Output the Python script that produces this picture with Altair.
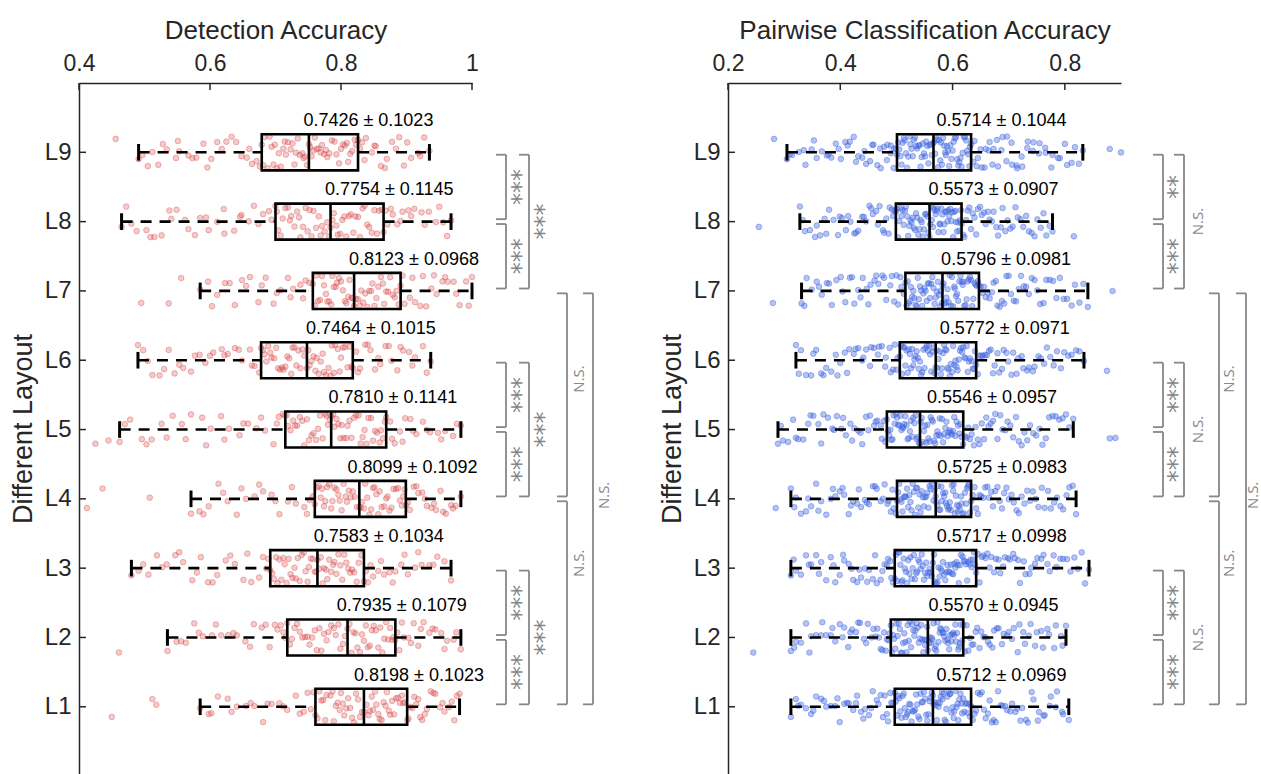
import math

import altair as alt
import pandas as pd

# ---------------------------------------------------------------- data
layouts = ["L1", "L2", "L3", "L4", "L5", "L6", "L7", "L8", "L9"]
rows = [1, 2, 3, 4, 5, 6, 7, 8, 9]

# Detection accuracy: summary per layout
det_mean = [0.8198, 0.7935, 0.7583, 0.8099, 0.7810, 0.7464, 0.8123, 0.7754, 0.7426]
det_std = [0.1023, 0.1079, 0.1034, 0.1092, 0.1141, 0.1015, 0.0968, 0.1145, 0.1023]
det_lo = [0.585, 0.535, 0.480, 0.571, 0.462, 0.490, 0.585, 0.465, 0.491]
det_q1 = [0.761, 0.718, 0.692, 0.760, 0.715, 0.678, 0.757, 0.700, 0.679]
det_med = [0.835, 0.810, 0.764, 0.828, 0.785, 0.748, 0.820, 0.784, 0.751]
det_q3 = [0.901, 0.883, 0.835, 0.899, 0.869, 0.818, 0.891, 0.865, 0.826]
det_hi = [0.981, 0.983, 0.968, 0.983, 0.983, 0.937, 1.000, 0.968, 0.935]

# Pairwise classification accuracy: summary per layout
pair_mean = [0.5712, 0.5570, 0.5717, 0.5725, 0.5546, 0.5772, 0.5796, 0.5573, 0.5714]
pair_std = [0.0969, 0.0945, 0.0998, 0.0983, 0.0957, 0.0971, 0.0981, 0.0907, 0.1044]
pair_lo = [0.312, 0.312, 0.312, 0.312, 0.289, 0.321, 0.331, 0.328, 0.305]
pair_q1 = [0.497, 0.490, 0.497, 0.501, 0.483, 0.506, 0.516, 0.499, 0.501]
pair_med = [0.565, 0.556, 0.565, 0.570, 0.542, 0.570, 0.582, 0.559, 0.566]
pair_q3 = [0.633, 0.619, 0.642, 0.633, 0.619, 0.642, 0.647, 0.616, 0.633]
pair_hi = [0.807, 0.802, 0.843, 0.820, 0.815, 0.834, 0.841, 0.778, 0.832]

# Individual scores (thousandths) per layout
det_scores = {
    "L1": "450 512 518 585 598 612 627 641 655 668 681 694 706 718 731 743 754 761 767 773 778 784 789 795 800 805 811 817 823 829 835 839 844 849 854 859 865 870 875 881 887 893 897 901 906 912 918 924 931 937 944 951 958 965 973 981 "
          "602 633 662 688 712 737 749 758 764 770 776 787 792 798 803 808 814 820 826 832 842 847 852 857 862 868 873 878 884 890 895 903 909 915 921 928 941 955 969 977",
    "L2": "461 535 549 563 576 589 603 617 628 641 654 667 679 691 703 712 718 725 733 741 749 756 763 770 778 785 792 799 806 810 816 822 829 835 841 847 853 860 866 872 878 883 889 896 903 911 918 926 935 944 953 962 972 983 "
          "556 583 609 636 661 685 699 708 715 722 729 737 745 752 760 767 774 781 789 796 803 813 819 825 832 838 844 850 857 863 869 875 880 886 893 907 922 940 958 976",
    "L3": "480 491 506 519 534 547 559 573 586 597 611 624 638 651 663 675 686 692 698 703 709 714 720 726 731 737 743 749 754 760 764 769 774 779 785 790 796 802 808 814 820 827 835 841 849 857 866 874 883 892 902 913 923 935 947 958 968 "
          "498 527 553 580 604 631 657 681 689 695 701 706 712 717 723 729 734 740 746 751 757 762 767 772 777 782 788 793 799 805 811 817 824 831 838 845 861 879 897 918 941",
    "L4": "412 436 508 571 584 598 613 627 641 655 668 681 694 706 719 731 744 752 760 766 771 776 782 787 793 798 804 809 815 821 828 832 837 843 849 854 859 866 871 877 884 890 895 899 905 911 918 924 931 938 945 952 960 968 975 983 "
          "590 620 648 675 700 725 748 757 763 769 774 779 785 790 796 801 807 812 818 824 830 835 840 846 851 857 862 869 874 880 887 893 897 902 915 928 942 956 971",
    "L5": "425 445 462 478 496 511 526 543 557 571 588 601 617 629 645 658 671 684 697 705 714 719 727 733 741 748 755 762 768 776 780 785 790 796 801 808 813 820 827 833 839 846 852 859 864 869 875 882 890 898 906 915 925 936 948 959 971 983 "
          "470 503 534 563 594 622 651 678 702 711 717 723 730 737 744 751 758 765 772 778 783 788 793 799 804 810 816 823 830 836 842 849 855 861 867 878 894 910 931 953 977",
    "L6": "490 498 512 523 537 546 559 571 584 593 605 618 627 638 649 661 668 678 683 689 694 701 707 712 718 724 729 735 741 748 752 758 763 769 774 781 786 791 798 803 810 818 823 829 837 845 852 860 868 877 886 895 904 913 925 937 "
          "505 530 553 577 600 622 644 664 675 681 686 692 698 704 710 715 721 726 732 738 744 750 755 761 766 772 777 784 789 795 800 806 813 816 826 841 857 873 891 909 931",
    "L7": "495 537 556 585 597 611 623 638 649 661 674 685 697 708 719 727 738 746 757 762 768 774 779 785 789 794 800 806 811 816 820 826 831 837 843 848 854 861 866 872 879 885 891 897 905 913 921 930 938 946 955 963 972 981 991 1000 "
          "603 630 655 679 702 723 742 752 760 765 771 777 782 787 792 797 803 808 813 818 823 829 834 840 846 851 857 864 869 875 882 888 894 909 925 942 959 976 995",
    "L8": "465 472 488 503 515 526 541 549 562 577 585 598 611 622 637 646 659 667 681 690 700 704 711 719 724 733 738 746 752 758 766 771 779 784 789 795 802 808 815 822 829 836 843 851 858 865 871 879 886 894 903 912 923 934 945 956 968 "
          "480 509 538 567 594 621 648 674 694 702 708 715 722 729 736 742 749 755 762 769 775 782 787 793 799 805 812 819 826 833 840 847 855 862 868 876 891 907 928 950 962",
    "L9": "456 491 497 512 521 534 548 553 567 579 590 602 611 625 633 648 656 664 671 679 681 688 694 699 705 712 716 723 729 734 741 745 751 755 760 766 771 779 782 790 797 803 809 814 821 826 832 838 847 853 861 870 878 889 896 907 918 927 935 "
          "505 528 551 573 596 618 640 660 676 683 691 697 702 708 714 719 726 731 737 743 748 753 758 763 769 774 777 786 793 800 806 811 817 823 829 836 851 867 884 901 921",
}

pair_scores = {
    "L1": "312 321 330 339 348 357 366 375 383 391 399 407 415 423 430 437 444 451 458 465 472 479 485 491 497 501 505 509 513 517 521 525 529 533 537 541 545 549 553 557 561 565 568 572 575 579 582 586 589 593 596 600 603 607 610 614 617 621 625 629 633 639 645 652 659 666 673 681 689 697 706 715 724 734 744 754 764 775 786 797 807 "
          "325 352 371 395 412 428 441 455 468 476 483 489 494 499 503 507 511 515 519 523 527 531 535 539 543 547 551 555 559 563 566 570 574 577 581 584 588 591 595 598 602 605 609 612 616 619 623 627 631 636 642 649 656 663 670 677 686 694 703 712 721 731 741 752 762 773 784 795",
    "L2": "245 312 321 330 339 348 357 366 375 383 391 399 407 414 421 428 435 442 449 456 463 469 475 481 486 490 494 498 502 506 510 514 518 522 526 530 534 538 542 546 550 553 556 559 563 566 570 573 577 580 584 587 591 594 598 601 605 608 612 615 619 625 631 637 644 651 658 666 674 682 691 700 709 719 729 739 750 761 772 784 796 802 "
          "318 345 368 386 404 418 432 446 459 466 472 478 483 488 492 496 500 504 508 512 516 520 524 528 532 536 540 544 548 551 555 558 561 564 568 571 575 578 582 585 589 592 596 599 603 606 610 613 617 622 628 634 641 648 655 663 671 679 688 697 706 716 726 736 747 758 769 781 793",
    "L3": "312 321 330 339 348 357 366 375 383 391 399 407 415 423 430 437 444 451 458 465 472 479 485 491 497 501 505 509 513 517 521 525 529 533 537 541 545 549 553 557 561 565 569 573 577 581 585 589 593 597 601 605 609 613 618 622 626 630 634 638 642 648 655 662 669 677 685 693 702 711 720 730 740 751 762 773 785 797 810 823 836 843 "
          "317 344 362 388 405 420 434 448 462 475 483 489 494 499 503 507 511 515 519 523 527 531 535 539 543 547 551 555 559 563 567 571 575 579 583 587 591 595 599 603 607 611 615 620 624 628 632 636 640 645 652 659 666 674 682 690 699 708 717 727 737 747 758 769 780 792 804 817 830",
    "L4": "285 312 321 330 339 348 357 366 375 383 391 399 407 415 423 430 437 444 451 458 465 472 479 486 493 501 505 509 513 517 521 525 529 533 537 541 545 549 553 557 561 566 570 573 576 580 583 587 590 594 597 601 604 608 611 615 618 622 626 629 633 639 645 651 658 665 672 680 688 696 705 714 723 733 743 753 764 775 786 797 808 820 "
          "318 343 361 387 404 419 433 447 462 476 484 490 495 499 503 507 511 515 519 523 527 531 535 539 543 547 551 555 559 563 568 571 574 578 581 585 588 592 595 599 602 606 609 613 616 620 624 627 631 636 642 648 655 662 669 676 684 692 700 709 718 728 738 748 759 770 781 792 803 814",
    "L5": "289 298 307 316 325 334 343 352 361 370 378 386 394 402 410 418 425 432 439 446 453 460 466 472 478 483 487 491 495 499 503 507 511 514 518 522 526 530 534 538 542 545 549 553 557 561 565 569 573 577 581 585 589 593 597 601 605 610 614 619 625 631 638 645 652 660 668 676 685 694 703 713 723 733 744 755 766 778 790 802 815 880 890 "
          "294 321 347 366 389 405 421 436 450 463 474 480 485 489 493 497 501 505 509 512 516 520 524 528 532 536 540 543 547 551 555 559 563 567 571 575 579 583 587 591 595 599 603 607 612 616 622 628 634 641 648 656 664 672 680 689 698 708 718 728 738 749 760 772 784 796 808",
    "L6": "321 330 339 348 357 366 375 384 392 400 408 416 424 432 439 446 453 460 467 474 481 488 494 500 506 510 514 518 522 526 530 534 538 542 546 550 554 558 562 566 570 573 577 581 585 589 593 597 601 605 609 613 617 621 625 629 634 638 642 648 654 661 668 675 683 691 699 708 717 726 736 746 757 768 780 793 806 820 834 875 "
          "326 352 370 395 412 427 441 455 469 480 490 497 502 508 512 516 520 524 528 532 536 540 544 548 552 556 560 564 568 572 575 579 583 587 591 595 599 603 607 611 615 619 623 627 631 636 640 645 651 658 665 672 680 688 696 705 714 723 733 743 753 763 774 786 799 812 826",
    "L7": "280 331 340 349 358 367 376 385 393 401 409 417 425 432 440 447 454 461 468 475 482 489 496 503 509 516 520 524 528 532 536 540 544 548 552 556 560 564 568 572 576 579 582 586 589 593 597 601 604 608 612 616 619 623 627 631 635 639 643 647 653 659 666 673 680 688 696 704 713 722 731 741 751 762 773 785 798 812 826 841 885 "
          "336 362 380 404 421 436 450 464 478 492 500 507 513 518 522 526 530 534 538 542 546 550 554 558 562 566 570 574 578 581 584 588 591 595 599 603 606 610 614 618 621 625 629 633 637 641 645 650 656 663 670 677 684 692 700 709 718 727 736 746 756 767 779 791 804 818 833",
    "L8": "255 328 337 346 355 364 372 380 388 396 403 410 418 425 432 439 446 452 458 464 470 476 482 488 494 499 503 507 511 515 519 523 527 531 535 539 543 547 551 555 559 562 565 568 572 575 578 582 585 589 592 596 599 603 606 610 613 616 621 627 633 639 645 652 659 666 673 681 689 698 707 716 726 736 746 757 767 778 816 "
          "333 358 375 399 414 428 442 455 467 478 486 492 497 501 505 509 513 517 521 525 529 533 537 541 545 549 553 557 560 563 566 570 573 577 580 584 587 591 594 598 601 605 608 612 615 619 624 630 636 642 649 656 663 670 678 686 694 703 712 721 731 741 751 762 773",
    "L9": "282 305 314 326 338 349 358 367 376 384 392 401 409 417 424 432 439 446 453 459 466 472 478 484 490 496 501 505 509 513 517 521 525 529 533 537 541 545 549 553 557 561 566 569 572 576 579 583 587 590 594 598 602 606 610 614 618 622 626 630 633 639 645 652 659 666 673 681 689 697 706 715 724 734 744 755 766 778 791 804 818 832 880 900 "
          "310 335 353 379 397 413 428 443 457 471 483 490 495 499 503 507 511 515 519 523 527 531 535 539 543 547 551 555 559 563 567 571 574 578 581 585 588 592 596 600 604 608 612 616 620 624 628 631 637 643 650 657 664 671 679 687 696 705 714 723 733 743 754 765 776 788 800 812 825",
}

# Pairwise significance brackets (upper layout, lower layout, nesting level)
sig_upper = [9, 8, 9, 6, 5, 6, 3, 2, 3, 7, 4, 7]
sig_lower = [8, 7, 7, 5, 4, 4, 2, 1, 1, 4, 1, 1]
sig_level = [0, 0, 1, 0, 0, 1, 0, 0, 1, 2, 2, 3]
sig_text_row = [8.5, 7.5, 8.0, 5.5, 4.5, 5.0, 2.5, 1.5, 2.0, 5.73, 3.07, 4.05]
det_sig = ["***", "***", "***", "***", "***", "***", "***", "***", "***", "N.S.", "N.S.", "N.S."]
pair_sig = ["**", "***", "N.S.", "***", "***", "N.S.", "***", "***", "N.S.", "N.S.", "N.S.", "N.S."]

# ---------------------------------------------------------------- style
FONT = "Liberation Sans"
SIG_FONT = "Open Sans"
AXC = "#262626"
GREY = "#878787"
YDOM = [0.03, 10]
W, H = 393, 691
BOX_HALF = 0.26
CAP_HALF = 0.12


def jitter(i, r):
    """Deterministic vertical spread for the i-th score of layout r."""
    h = math.sin(i * 12.9898 + r * 78.233) * 43758.5453
    return (h - math.floor(h)) - 0.5


def build_points(scores):
    recs = []
    for lay, r in zip(layouts, rows):
        vals = [int(s) / 1000 for s in scores[lay].split()]
        for i, v in enumerate(vals):
            recs.append({"v": v, "yj": r + jitter(i, r) * 0.46})
    return pd.DataFrame(recs)


def make_panel(scores, mean, std, lo, q1, med, q3, hi, sig, xdom, xticks,
               xtitle, color, fill_op, stroke_op, br_px, txt_px, star_px,
               px_per_unit):
    xs = alt.Scale(domain=xdom, nice=False, zero=False)
    ys = alt.Scale(domain=YDOM, nice=False, zero=False)
    x_axis = alt.Axis(orient="top", values=xticks, format="~g", tickSize=0,
                      grid=False, labelFlush=False, labelFontSize=23,
                      labelPadding=8, labelFont=FONT, labelColor=AXC,
                      titleFont=FONT, titleFontSize=26, titleFontWeight="normal",
                      titleColor=AXC, titleY=-53, titleBaseline="middle",
                      domainColor=AXC, domainWidth=1.5)
    y_axis = alt.Axis(values=rows, labelExpr="'L' + datum.value", tickSize=0,
                      grid=False, labelFlush=False, labelFontSize=24,
                      labelPadding=8, labelFont=FONT, labelColor=AXC,
                      titleFont=FONT, titleFontSize=27, titleFontWeight="normal",
                      titleColor=AXC, titleX=-56, titleY=H / 2, titleAngle=270,
                      titleBaseline="middle", titleAlign="center",
                      domainColor=AXC, domainWidth=1.5)

    def X(f):
        return alt.X(f, type="quantitative", scale=xs, axis=x_axis, title=xtitle)

    def Y(f):
        return alt.Y(f, type="quantitative", scale=ys, axis=y_axis,
                     title="Different Layout")

    pts = build_points(scores)
    box = pd.DataFrame({"r": rows, "lo": lo, "q1": q1, "med": med, "q3": q3,
                        "hi": hi, "mean": mean})
    box["b0"] = box["r"] - BOX_HALF
    box["b1"] = box["r"] + BOX_HALF
    box["ly"] = box["r"] + 0.45
    box["lab"] = [f"{m:.4f} \u00b1 {s:.4f}" for m, s in zip(mean, std)]

    whisk = pd.concat([
        pd.DataFrame({"a": lo, "b": q1, "r": rows}),
        pd.DataFrame({"a": q3, "b": hi, "r": rows}),
    ])
    caps = pd.concat([
        pd.DataFrame({"c": lo, "r": rows}),
        pd.DataFrame({"c": hi, "r": rows}),
    ])
    caps["c0"] = caps["r"] - CAP_HALF
    caps["c1"] = caps["r"] + CAP_HALF

    # significance brackets, placed to the right of the plot area
    x0 = xdom[1]
    hook = 10 / px_per_unit
    br = pd.DataFrame({"up": sig_upper, "dn": sig_lower, "lev": sig_level,
                       "tr": sig_text_row, "lab": sig})
    br["bx"] = [x0 + br_px[l] / px_per_unit for l in br["lev"]]
    br["tx"] = [x0 + txt_px[l] / px_per_unit for l in br["lev"]]
    br["sx"] = [x0 + star_px[l] / px_per_unit for l in br["lev"]]
    br["hx"] = br["bx"] - hook
    br["y0"] = br["dn"] + 0.035
    br["y1"] = br["up"] - 0.035
    hooks = pd.concat([
        pd.DataFrame({"hx": br["hx"], "bx": br["bx"], "hy": br["y0"]}),
        pd.DataFrame({"hx": br["hx"], "bx": br["bx"], "hy": br["y1"]}),
    ])
    stars = br[br["lab"] != "N.S."]
    ns = br[br["lab"] == "N.S."]

    ytick = pd.DataFrame({"r": rows, "t0": xdom[0], "t1": xdom[0] + 7 / px_per_unit})
    xtick = pd.DataFrame({"t": xticks, "s0": YDOM[1], "s1": YDOM[1] - 7 / 69.3})

    layers = [
        alt.Chart(pts).mark_circle(size=32, fill=color, fillOpacity=fill_op,
                                   stroke=color, strokeOpacity=stroke_op,
                                   strokeWidth=0.8).encode(x=X("v"), y=Y("yj")),
        alt.Chart(whisk).mark_rule(color="black", strokeWidth=2.6,
                                   strokeDash=[11, 8]).encode(
            x=X("a"), x2="b", y=Y("r")),
        alt.Chart(caps).mark_rule(color="black", strokeWidth=3).encode(
            x=X("c"), y=Y("c0"), y2="c1"),
        alt.Chart(box).mark_rect(color="black", fillOpacity=0, stroke="black",
                                 strokeWidth=2.6).encode(
            x=X("q1"), x2="q3", y=Y("b0"), y2="b1"),
        alt.Chart(box).mark_rule(color="black", strokeWidth=2.6).encode(
            x=X("med"), y=Y("b0"), y2="b1"),
        alt.Chart(box).mark_text(align="left", baseline="middle", fontSize=18,
                                 font=FONT, color="black").encode(
            x=X("mean"), y=Y("ly"), text="lab:N"),
        alt.Chart(br).mark_rule(color=GREY, strokeWidth=1.8).encode(
            x=X("bx"), y=Y("y0"), y2="y1"),
        alt.Chart(hooks).mark_rule(color=GREY, strokeWidth=1.8).encode(
            x=X("hx"), x2="bx", y=Y("hy")),
        alt.Chart(stars).mark_text(angle=270, align="center", baseline="middle",
                                   fontSize=24, font="DejaVu Sans",
                                   color=GREY).encode(
            x=X("sx"), y=Y("tr"), text="lab:N"),
        alt.Chart(ns).mark_text(angle=270, align="center", baseline="middle",
                                fontSize=15, font=SIG_FONT, color=GREY).encode(
            x=X("tx"), y=Y("tr"), text="lab:N"),
        alt.Chart(ytick).mark_rule(color=AXC, strokeWidth=1.5).encode(
            x=X("t0"), x2="t1", y=Y("r")),
        alt.Chart(xtick).mark_rule(color=AXC, strokeWidth=1.5).encode(
            x=X("t"), y=Y("s0"), y2="s1"),
    ]
    return alt.layer(*layers).properties(width=W, height=H)


left = make_panel(det_scores, det_mean, det_std, det_lo, det_q1, det_med,
                  det_q3, det_hi, det_sig, [0.4, 1.0], [0.4, 0.6, 0.8, 1.0],
                  "Detection Accuracy", "#d63a3a", 0.27, 0.42,
                  [34, 57, 95, 121], [45, 68, 107, 132], [50, 73, 107, 132],
                  393 / 0.6)
right = make_panel(pair_scores, pair_mean, pair_std, pair_lo, pair_q1,
                   pair_med, pair_q3, pair_hi, pair_sig, [0.2, 0.9],
                   [0.2, 0.4, 0.6, 0.8], "Pairwise Classification Accuracy",
                   "#3a62e0", 0.38, 0.5,
                   [42, 63, 98, 125], [52, 77, 108, 132], [57, 77, 108, 132],
                   393 / 0.7)

chart = alt.hconcat(left, right, spacing=256, bounds="flush").properties(
    padding={"left": 9, "top": 17, "right": 0, "bottom": 0}
).configure_view(strokeWidth=0)

chart.save("out.html", embed_options={"renderer": "svg", "actions": False})
